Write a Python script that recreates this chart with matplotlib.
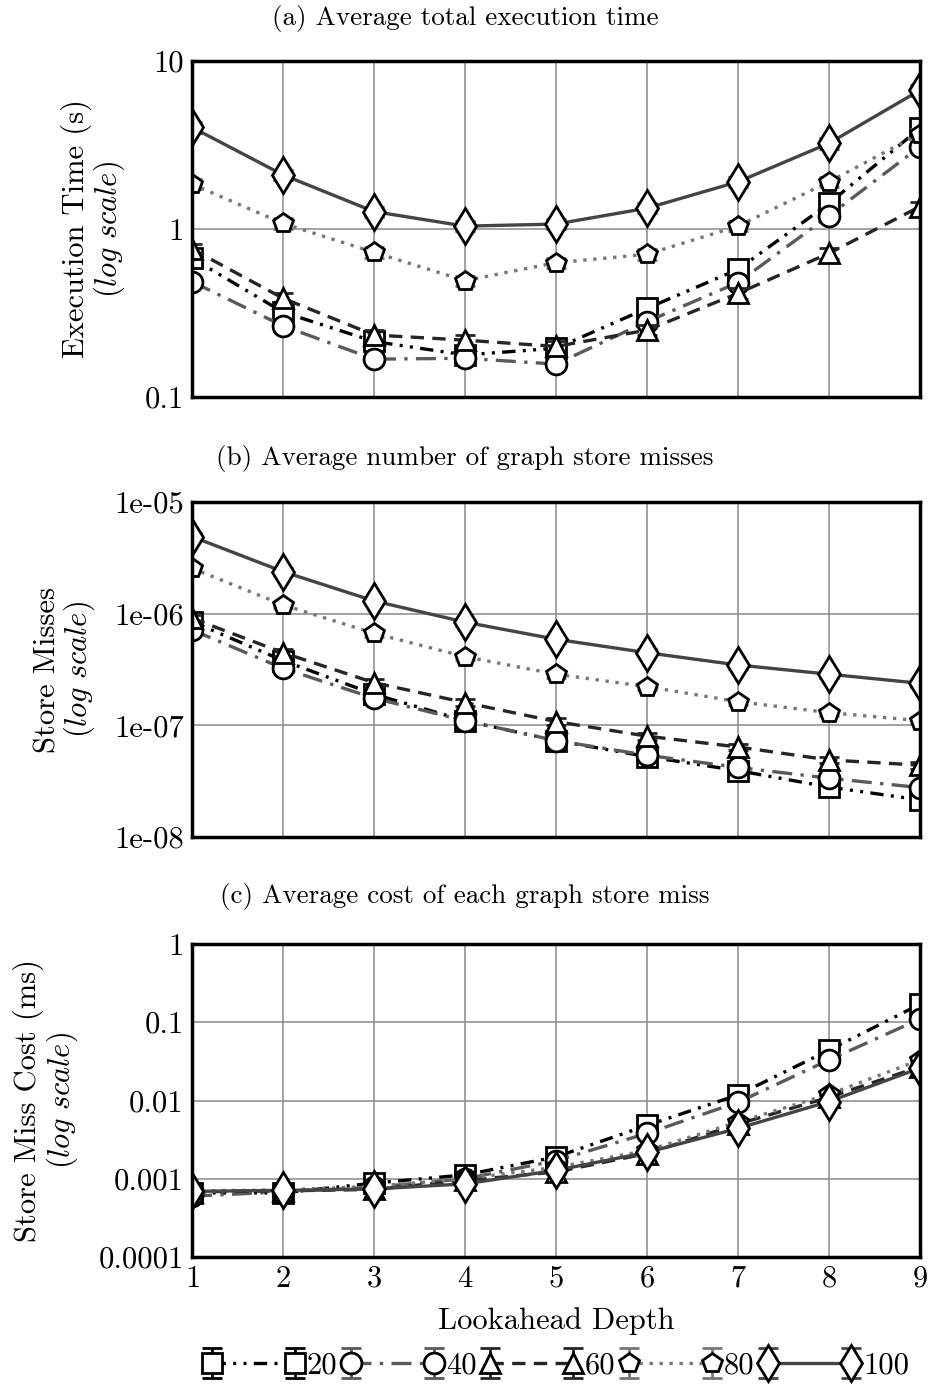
import matplotlib
matplotlib.use("Agg")
import matplotlib.pyplot as plt
from matplotlib.ticker import FixedLocator, FixedFormatter, NullLocator

plt.rcParams['font.family'] = ['cmr10', 'DejaVu Serif']
plt.rcParams['mathtext.fontset'] = 'cm'
plt.rcParams['axes.formatter.use_mathtext'] = True

# ---------------- data ----------------
depth = [1, 2, 3, 4, 5, 6, 7, 8, 9]
series_labels = ['20', '40', '60', '80', '100']

time_20 = [0.67, 0.32, 0.214, 0.178, 0.195, 0.337, 0.575, 1.42, 3.98]
time_40 = [0.486, 0.265, 0.168, 0.17, 0.157, 0.281, 0.48, 1.2, 3.09]
time_60 = [0.76, 0.387, 0.234, 0.218, 0.2, 0.25, 0.414, 0.717, 1.36]
time_80 = [1.85, 1.08, 0.726, 0.493, 0.63, 0.707, 1.04, 1.91, 3.7]
time_100 = [4.03, 2.1, 1.27, 1.04, 1.07, 1.33, 1.91, 3.24, 6.7]

misses_20 = [8.5e-7, 3.8e-7, 1.9e-7, 1.1e-7, 7.3e-8, 5.25e-8, 3.93e-8, 2.8e-8, 2.15e-8]
misses_40 = [7.15e-7, 3.24e-7, 1.75e-7, 1.1e-7, 7.3e-8, 5.4e-8, 4.2e-8, 3.36e-8, 2.77e-8]
misses_60 = [9.1e-7, 4.47e-7, 2.41e-7, 1.6e-7, 1.08e-7, 8.0e-8, 6.4e-8, 4.9e-8, 4.4e-8]
misses_80 = [2.55e-6, 1.2e-6, 6.67e-7, 4.12e-7, 2.87e-7, 2.22e-7, 1.63e-7, 1.3e-7, 1.1e-7]
misses_100 = [4.9e-6, 2.38e-6, 1.3e-6, 8.4e-7, 5.9e-7, 4.47e-7, 3.47e-7, 2.87e-7, 2.38e-7]

cost_20 = [6.6e-4, 6.6e-4, 8.8e-4, 1.12e-3, 1.9e-3, 4.8e-3, 0.0118, 0.044, 0.17]
cost_40 = [6.0e-4, 6.8e-4, 7.8e-4, 1.0e-3, 1.7e-3, 3.8e-3, 0.0095, 0.033, 0.11]
cost_60 = [6.8e-4, 7.0e-4, 7.3e-4, 9.5e-4, 1.22e-3, 2.1e-3, 5.0e-3, 0.011, 0.027]
cost_80 = [7.0e-4, 7.2e-4, 8.0e-4, 1.0e-3, 1.4e-3, 2.3e-3, 5.3e-3, 0.012, 0.033]
cost_100 = [6.9e-4, 7.1e-4, 7.4e-4, 8.6e-4, 1.28e-3, 2.17e-3, 4.4e-3, 9.7e-3, 0.026]

time_ticks = [0.1, 1, 10]
time_ticklabels = ['0.1', '1', '10']
misses_ticks = [1e-8, 1e-7, 1e-6, 1e-5]
misses_ticklabels = ['1e-08', '1e-07', '1e-06', '1e-05']
cost_ticks = [1e-4, 1e-3, 1e-2, 1e-1, 1]
cost_ticklabels = ['0.0001', '0.001', '0.01', '0.1', '1']

# ---------------- styles ----------------
ERR_FRAC = 0.07
colors = ['#000000', '#5a5a5a', '#262626', '#777777', '#444444']
markers = ['s', 'o', '^', 'p', 'd']
msizes = [15, 15, 15, 15, 18]
dashes = [(0, (4, 2.2, 0.9, 2.2, 0.9, 2.2)),
          (0, (6, 2.5, 1, 2.5)),
          (0, (4, 2.5)),
          (0, (1, 2)),
          '-']
FS = 22
LW = 2.4

fig = plt.figure(figsize=(9.3, 13.9), dpi=100)
W, H = 930.0, 1390.0
left = 192 / W
width = 728 / W


def make_ax(top_px, bot_px):
    return fig.add_axes([left, 1 - bot_px / H, width, (bot_px - top_px) / H])


axA = make_ax(61, 397)
axB = make_ax(502, 837)
axC = make_ax(944, 1257)

panels = [
    (axA, [time_20, time_40, time_60, time_80, time_100], (0.1, 10), time_ticks, time_ticklabels,
     'Execution Time (s)', -0.089, '(a) Average total execution time', 18),
    (axB, [misses_20, misses_40, misses_60, misses_80, misses_100], (1e-8, 1e-5), misses_ticks, misses_ticklabels,
     'Store Misses', -0.130, '(b) Average number of graph store misses', 459),
    (axC, [cost_20, cost_40, cost_60, cost_80, cost_100], (1e-4, 1), cost_ticks, cost_ticklabels,
     'Store Miss Cost (ms)', -0.154, '(c) Average cost of each graph store miss', 897),
]

handles = []
for pi, (ax, data, ylim, yt, ytl, ylab, labx, title, title_y) in enumerate(panels):
    ax.set_yscale('log')
    for i, vals in enumerate(data):
        err = [v * ERR_FRAC for v in vals]
        c = ax.errorbar(depth, vals, yerr=err, color=colors[i], linestyle=dashes[i], linewidth=LW,
                        marker=markers[i], markersize=msizes[i], markerfacecolor='white',
                        markeredgecolor='black', markeredgewidth=2.0, ecolor=colors[i],
                        elinewidth=2.0, capsize=7, capthick=2.0, label=series_labels[i], zorder=3 + i)
        if pi == 0:
            handles.append(c)
    ax.set_xlim(1, 9)
    ax.set_ylim(*ylim)
    ax.xaxis.set_major_locator(FixedLocator(depth))
    ax.yaxis.set_major_locator(FixedLocator(yt))
    ax.yaxis.set_major_formatter(FixedFormatter(ytl))
    ax.yaxis.set_minor_locator(NullLocator())
    ax.grid(True, which='major', color='#8a8a8a', linewidth=1.1, zorder=0)
    ax.set_axisbelow(True)
    ax.tick_params(axis='both', length=0, labelsize=FS, pad=6)
    if ax is not axC:
        ax.tick_params(axis='x', labelbottom=False)
    for s in ax.spines.values():
        s.set_linewidth(2.5)
        s.set_color('black')
        s.set_zorder(20)
    ax.set_ylabel(ylab + '\n' + r'$\mathit{(log\ scale)}$', fontsize=FS, multialignment='center',
                  linespacing=1.0)
    ax.yaxis.set_label_coords(labx, 0.5)
    fig.text(0.5, 1 - title_y / H, title, ha='center', va='center', fontsize=19.5)

axC.set_xlabel('Lookahead Depth', fontsize=FS, labelpad=10)

fig.legend(handles, series_labels, loc='center', bbox_to_anchor=(556 / W, 1 - 1366 / H), ncol=5,
           frameon=False, handlelength=3.3, handletextpad=0.1, columnspacing=0.15, numpoints=2,
           fontsize=FS, borderaxespad=0)

fig.savefig('out.png', dpi=100)
